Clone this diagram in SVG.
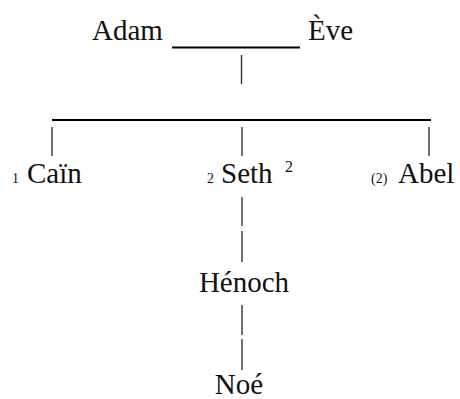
<svg xmlns="http://www.w3.org/2000/svg" width="460" height="399" viewBox="0 0 460 399">
<style>
text{font-family:'Liberation Serif','DejaVu Serif',serif;fill:#111}
.n{font-size:29px}
.s{font-size:14px}
.h{stroke:#000;stroke-width:2.2}
.v{stroke:#333;stroke-width:1.4}
</style>
<rect width="460" height="399" fill="#fff"/>
<g id="connectors">
<line class="h" x1="172" y1="47.5" x2="300" y2="47.5"/>
<line class="v" x1="241.5" y1="55" x2="241.5" y2="84"/>
<line class="h" x1="52" y1="120" x2="431" y2="120"/>
<line class="v" x1="52" y1="127" x2="52" y2="156"/>
<line class="v" x1="242" y1="127" x2="242" y2="156"/>
<line class="v" x1="429" y1="127" x2="429" y2="156"/>
<line class="v" x1="242" y1="197" x2="242" y2="226"/>
<line class="v" x1="242" y1="231" x2="242" y2="262"/>
<line class="v" x1="242" y1="305" x2="242" y2="335"/>
<line class="v" x1="242" y1="339" x2="242" y2="370"/>
</g>
<g id="adam"><text class="n" x="92" y="40" font-family="Liberation Serif">Adam</text></g>
<g id="eve"><text class="n" x="308" y="40" font-family="Liberation Serif">Ève</text></g>
<g id="cain"><text class="s" x="12" y="183">1</text><text class="n" x="27" y="183">Caïn</text></g>
<g id="seth"><text class="s" x="207" y="183">2</text><text class="n" x="221" y="183">Seth</text><text class="s" x="285" y="172" style="font-size:16px">2</text></g>
<g id="abel"><text class="s" x="371" y="183">(2)</text><text class="n" x="398" y="183">Abel</text></g>
<g id="henoch"><text class="n" x="244" y="292" text-anchor="middle">Hénoch</text></g>
<g id="noe"><text class="n" x="239" y="394" text-anchor="middle">Noé</text></g>
</svg>
